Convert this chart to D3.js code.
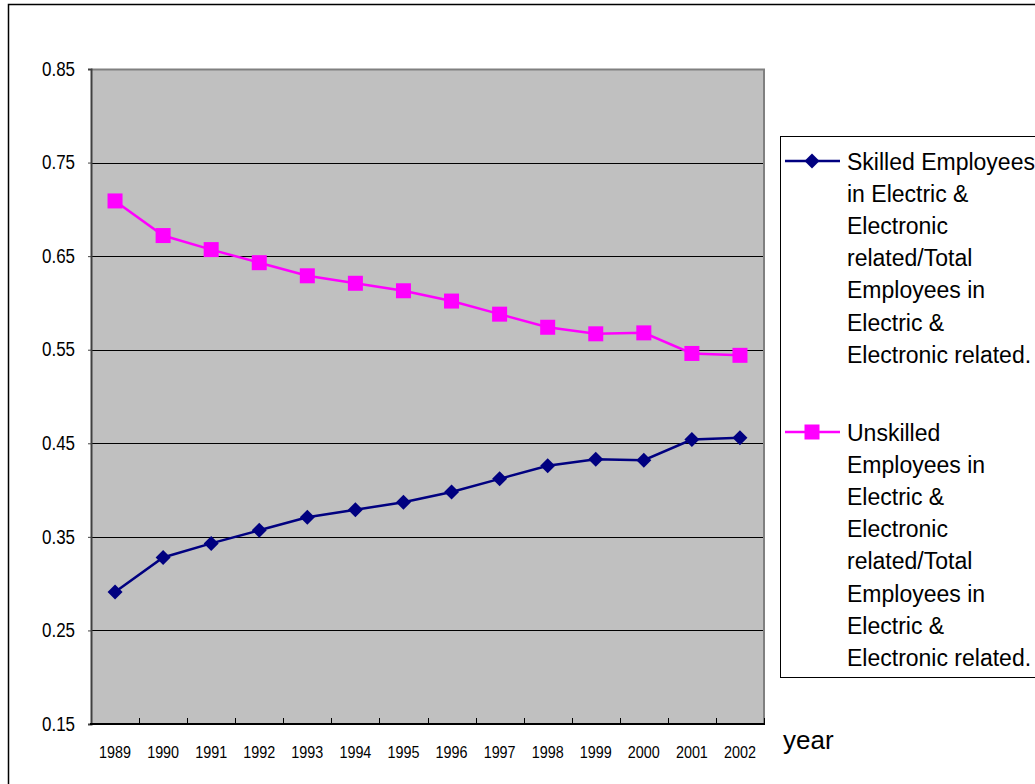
<!DOCTYPE html>
<html>
<head>
<meta charset="utf-8">
<script src="https://cdn.jsdelivr.net/npm/d3@7"></script>
<style>
  html, body { margin: 0; padding: 0; background: #ffffff; }
  svg { display: block; font-family: "Liberation Sans", Arial, sans-serif; }
</style>
</head>
<body>
<svg id="chart" width="1035" height="784"></svg>
<script>
// Share of skilled vs unskilled employees in electric & electronic related industries
const years = ["1989", "1990", "1991", "1992", "1993", "1994", "1995",
               "1996", "1997", "1998", "1999", "2000", "2001", "2002"];
const skilled   = [0.291, 0.328, 0.343, 0.357, 0.371, 0.379, 0.387,
                   0.398, 0.412, 0.426, 0.433, 0.432, 0.454, 0.456];
const unskilled = [0.709, 0.672, 0.657, 0.643, 0.629, 0.621, 0.613,
                   0.602, 0.588, 0.574, 0.567, 0.568, 0.546, 0.544];
const yTicks = [0.15, 0.25, 0.35, 0.45, 0.55, 0.65, 0.75, 0.85];
const seriesNames = [
  ["Skilled Employees", "in Electric &", "Electronic", "related/Total",
   "Employees in", "Electric &", "Electronic related."],
  ["Unskilled", "Employees in", "Electric &", "Electronic", "related/Total",
   "Employees in", "Electric &", "Electronic related."]
];
const xTitle = "year";

const svg = d3.select("#chart");

// outer chart frame
svg.append("rect")
  .attr("x", 8.5).attr("y", 4.5).attr("width", 1100).attr("height", 900)
  .attr("fill", "#fff").attr("stroke", "#000").attr("stroke-width", 1.5);

const plot = { left: 91, top: 69, right: 764, bottom: 724 };

const x = d3.scaleBand().domain(years).range([plot.left, plot.right]).padding(0);
const y = d3.scaleLinear().domain([0.15, 0.85]).range([plot.bottom, plot.top]);

// plot background
svg.append("rect")
  .attr("x", plot.left).attr("y", plot.top)
  .attr("width", plot.right - plot.left).attr("height", plot.bottom - plot.top)
  .attr("fill", "#c0c0c0");

// horizontal gridlines
svg.append("g").selectAll("line")
  .data(yTicks.filter(v => v > 0.15 && v < 0.85))
  .join("line")
  .attr("x1", plot.left).attr("x2", plot.right)
  .attr("y1", d => Math.round(y(d)) + 0.5).attr("y2", d => Math.round(y(d)) + 0.5)
  .attr("stroke", "#000").attr("stroke-width", 1);

// top and right plot border
svg.append("path")
  .attr("d", `M${plot.left},${plot.top + 0.5}H${plot.right}V${plot.bottom}`)
  .attr("fill", "none").attr("stroke", "#808080").attr("stroke-width", 2);

// narrow tick-label glyphs: horizontally compressed text
const squeeze = 0.87;

// y axis
const yAxis = d3.axisLeft(y).tickValues(yTicks).tickSize(3).tickPadding(14)
  .tickFormat(d3.format(".2f"));
const gy = svg.append("g").attr("transform", `translate(${plot.left},0)`).call(yAxis);
gy.select(".domain").attr("stroke", "#404040").attr("stroke-width", 2);
gy.selectAll(".tick line").attr("stroke", "#404040");
gy.selectAll("text")
  .attr("font-size", 19.5).attr("fill", "#000")
  .attr("font-family", "Liberation Sans, Arial, sans-serif")
  .attr("x", -16 / squeeze)
  .attr("transform", `scale(${squeeze},1)`);

// x axis: labels centred on categories, ticks at category boundaries
const gx = svg.append("g").attr("transform", `translate(0,${plot.bottom})`);
gx.append("line")
  .attr("x1", plot.left - 1).attr("x2", plot.right + 1)
  .attr("y1", 0).attr("y2", 0).attr("stroke", "#000").attr("stroke-width", 2);
gx.selectAll("line.tk")
  .data(years.slice(1).concat(["end"]))
  .join("line").attr("class", "tk")
  .attr("x1", (d, i) => Math.round(x(years[0]) + x.bandwidth() * (i + 1)) + 0.5)
  .attr("x2", (d, i) => Math.round(x(years[0]) + x.bandwidth() * (i + 1)) + 0.5)
  .attr("y1", 0).attr("y2", -6).attr("stroke", "#000").attr("stroke-width", 1);
gx.selectAll("text")
  .data(years)
  .join("text")
  .attr("transform", d => `translate(${x(d) + x.bandwidth() / 2},33.5) scale(${squeeze},1)`)
  .attr("text-anchor", "middle")
  .attr("font-size", 16.5)
  .attr("fill", "#000")
  .text(d => d);

svg.append("text")
  .attr("x", 783).attr("y", 749)
  .attr("font-size", 26).attr("fill", "#000")
  .text(xTitle);

// series lines and markers
const cx = d => x(d) + x.bandwidth() / 2;
const line = d3.line().x(d => cx(d.year)).y(d => y(d.value));

const navy = "#000080", magenta = "#ff00ff";
const diamond = r => `M0,${-r}L${r},0L0,${r}L${-r},0Z`;

const sData = years.map((yr, i) => ({ year: yr, value: skilled[i] }));
const uData = years.map((yr, i) => ({ year: yr, value: unskilled[i] }));

svg.append("path").datum(uData).attr("d", line)
  .attr("fill", "none").attr("stroke", magenta).attr("stroke-width", 2.5);
svg.append("g").selectAll("rect").data(uData).join("rect")
  .attr("x", d => cx(d.year) - 7.5).attr("y", d => y(d.value) - 7.5)
  .attr("width", 15).attr("height", 15).attr("fill", magenta);

svg.append("path").datum(sData).attr("d", line)
  .attr("fill", "none").attr("stroke", navy).attr("stroke-width", 2.5);
svg.append("g").selectAll("path").data(sData).join("path")
  .attr("transform", d => `translate(${cx(d.year)},${y(d.value)})`)
  .attr("d", diamond(7.5)).attr("fill", navy);

// legend
const lg = svg.append("g");
lg.append("rect")
  .attr("x", 780.5).attr("y", 136.5).attr("width", 400).attr("height", 541)
  .attr("fill", "#fff").attr("stroke", "#000").attr("stroke-width", 1);

const entries = [
  { lines: seriesNames[0], color: navy, shape: "diamond", top: 161 },
  { lines: seriesNames[1], color: magenta, shape: "square", top: 432 }
];
const lineH = 32.2;
entries.forEach(e => {
  const g = lg.append("g");
  g.append("line").attr("x1", 785).attr("x2", 840)
    .attr("y1", e.top).attr("y2", e.top)
    .attr("stroke", e.color).attr("stroke-width", 2.5);
  if (e.shape === "diamond") {
    g.append("path").attr("transform", `translate(812,${e.top})`)
      .attr("d", diamond(7.5)).attr("fill", e.color);
  } else {
    g.append("rect").attr("x", 812 - 7.5).attr("y", e.top - 7.5)
      .attr("width", 15).attr("height", 15).attr("fill", e.color);
  }
  g.selectAll("text").data(e.lines).join("text")
    .attr("x", 847).attr("y", (d, i) => e.top + 8.5 + i * lineH)
    .attr("font-size", 23).attr("fill", "#000")
    .text(d => d);
});
</script>
</body>
</html>
